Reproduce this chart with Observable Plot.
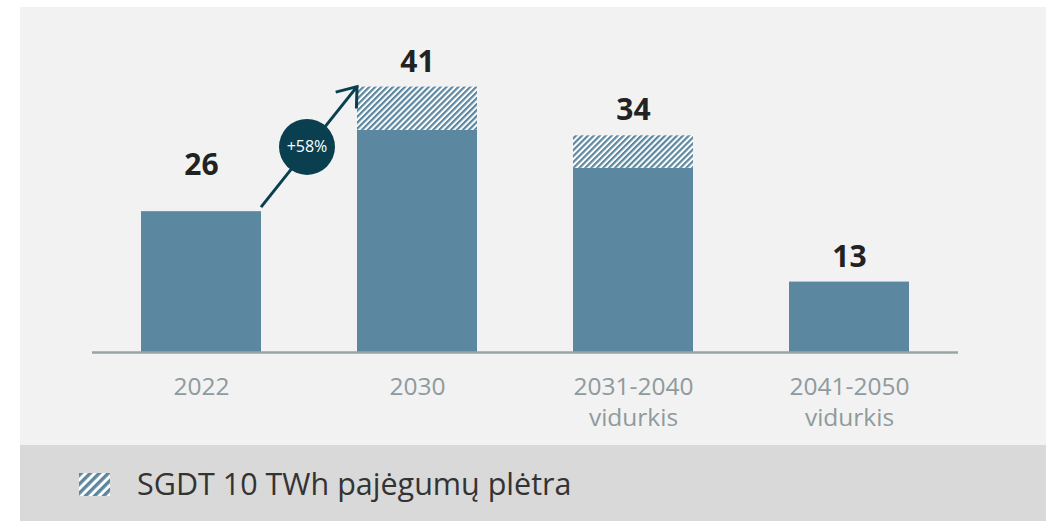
<!DOCTYPE html>
<html>
<head>
<meta charset="utf-8">
<script src="https://cdn.jsdelivr.net/npm/d3@7"></script>
<script src="https://cdn.jsdelivr.net/npm/@observablehq/plot@0.6"></script>
<style>
  html, body { margin: 0; padding: 0; background: #ffffff; }
  body { width: 1046px; height: 521px; position: relative; overflow: hidden; font-family: "Open Sans", "Noto Sans", sans-serif; }
  #panel { position: absolute; left: 20px; top: 7px; width: 1026px; background: #f2f2f2; }
  #legend { position: relative; height: 76px; background: #d9d9d9; display: flex; align-items: center; }
  #legend svg { margin-left: 59px; margin-top: 2px; }
  #legend span { margin-left: 27px; font-size: 30.5px; color: #333333; }
</style>
</head>
<body>
<div id="panel">
  <div id="chart"></div>
  <div id="legend"></div>
</div>
<script>
// ---- data ----
const categories = ["2022", "2030", "2031-2040", "2041-2050"];
const tickLabels = ["2022", "2030", "2031-2040\nvidurkis", "2041-2050\nvidurkis"];
const baseValues = [26, 41, 34, 13];
const sgdtValues = [0, 8, 6, 0];
const growthLabel = "+58%";
const legendLabel = "SGDT 10 TWh pajėgumų plėtra";

// ---- styles ----
const barColor = "#5b87a0";
const accent = "#0a3f50";

const rows = categories.map((c, i) => ({
  cat: c,
  base: baseValues[i],
  sgdt: sgdtValues[i],
  total: baseValues[i] + sgdtValues[i],
  label: String(baseValues[i])
}));
const hatchRows = rows.filter(d => d.sgdt > 0);
const labelMap = new Map(categories.map((c, i) => [c, tickLabels[i]]));

const plot = Plot.plot({
  width: 1026,
  height: 438,
  marginLeft: 72,
  marginRight: 88,
  marginTop: 20,
  marginBottom: 93,
  style: { background: "transparent", fontFamily: "'Open Sans', 'Noto Sans', sans-serif" },
  x: { domain: categories, paddingInner: 0.446, paddingOuter: 0.223, label: null },
  y: { domain: [0, 60], axis: null },
  marks: [
    Plot.barY(rows, { x: "cat", y1: 0, y2: "base", fill: barColor }),
    Plot.barY(hatchRows, { x: "cat", y1: "base", y2: "total", fill: "url(#hatch)" }),
    Plot.ruleY([0], { stroke: "#9aa4a6", strokeWidth: 2.5 }),
    Plot.axisX({
      tickSize: 0,
      tickPadding: 20,
      fontSize: 24.5,
      lineHeight: 1.28,
      color: "#8f9a9c",
      tickFormat: d => labelMap.get(d),
      label: null
    }),
    Plot.text(rows.filter(d => d.cat !== "2022"), {
      x: "cat", y: "total", text: "label", dy: -25,
      fontSize: 30, fontWeight: "bold", fill: "#222222", lineAnchor: "middle"
    }),
    Plot.text(rows.filter(d => d.cat === "2022"), {
      x: "cat", y: "total", text: "label", dy: -46,
      fontSize: 30, fontWeight: "bold", fill: "#222222", lineAnchor: "middle"
    })
  ]
});

document.getElementById("chart").appendChild(plot);

// hatch pattern
const svg = d3.select(plot);
const defs = svg.insert("defs", ":first-child");
const pat = defs.append("pattern")
  .attr("id", "hatch")
  .attr("patternUnits", "userSpaceOnUse")
  .attr("width", 4.2).attr("height", 4.2)
  .attr("patternTransform", "rotate(45)");
pat.append("rect").attr("width", 4.2).attr("height", 4.2).attr("fill", "#ffffff");
pat.append("rect").attr("width", 2.2).attr("height", 4.2).attr("fill", barColor);

// growth arrow + badge derived from scales
const xs = plot.scale("x");
const ys = plot.scale("y");
const x1 = xs.apply(categories[0]) + xs.bandwidth;
const y1 = ys.apply(rows[0].total) - 4;
const x2 = xs.apply(categories[1]);
const y2 = ys.apply(rows[1].total);
const g = svg.append("g");
g.append("line")
  .attr("x1", x1).attr("y1", y1).attr("x2", x2).attr("y2", y2)
  .attr("stroke", accent).attr("stroke-width", 3);
const ang = Math.atan2(y1 - y2, x1 - x2);
const armLen = 22, spread = 37 * Math.PI / 180;
const arm = a => [x2 + armLen * Math.cos(a), y2 + armLen * Math.sin(a)];
const [ax, ay] = arm(ang + spread);
const [bx, by] = arm(ang - spread);
g.append("path")
  .attr("d", `M${ax},${ay}L${x2},${y2}L${bx},${by}`)
  .attr("fill", "none").attr("stroke", accent).attr("stroke-width", 3)
  .attr("stroke-linejoin", "miter");
const cx = (x1 + x2) / 2 - 2, cy = (y1 + y2) / 2;
g.append("circle").attr("cx", cx).attr("cy", cy).attr("r", 28).attr("fill", accent);
g.append("text").attr("x", cx).attr("y", cy).attr("dy", "0.35em")
  .attr("text-anchor", "middle").attr("fill", "#ffffff")
  .attr("font-size", 16).attr("font-family", "'Open Sans', sans-serif")
  .text(growthLabel);

// legend
const legend = d3.select("#legend");
const sw = legend.append("svg").attr("width", 31).attr("height", 23);
const lp = sw.append("defs").append("pattern")
  .attr("id", "hatchLegend")
  .attr("patternUnits", "userSpaceOnUse")
  .attr("width", 6.4).attr("height", 6.4)
  .attr("patternTransform", "rotate(45)");
lp.append("rect").attr("width", 6.4).attr("height", 6.4).attr("fill", "#ffffff");
lp.append("rect").attr("width", 3.4).attr("height", 6.4).attr("fill", barColor);
sw.append("rect").attr("width", 31).attr("height", 23).attr("fill", "url(#hatchLegend)");
legend.append("span").text(legendLabel);
</script>
</body>
</html>
